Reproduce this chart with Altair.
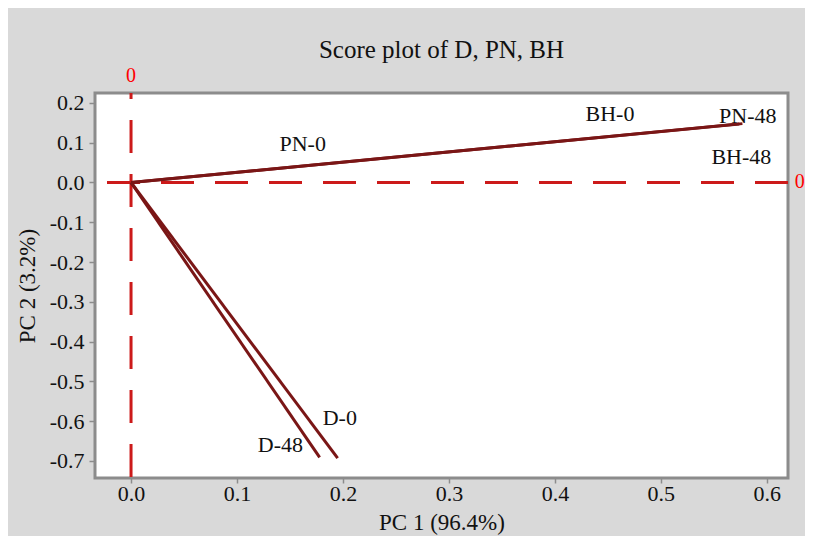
import altair as alt
import pandas as pd

# Lines drawn from the origin to each score point
series = ["D-0", "D-0", "D-48", "D-48", "PN", "PN", "BH", "BH"]
pc1 = [0.0, 0.195, 0.0, 0.178, 0.0, 0.577, 0.0, 0.574]
pc2 = [0.0, -0.693, 0.0, -0.691, 0.0, 0.148, 0.0, 0.147]
order = [0, 1, 0, 1, 0, 1, 0, 1]

# Point labels
label_text = ["PN-0", "BH-0", "PN-48", "BH-48", "D-0", "D-48"]
label_x = [0.162, 0.452, 0.582, 0.576, 0.197, 0.141]
label_y = [0.098, 0.173, 0.166, 0.063, -0.593, -0.661]

# Reference-line labels
ref_text = ["0", "0"]
ref_x = [0.0, 0.631]
ref_y = [0.269, 0.0]

x_ticks = [0.0, 0.1, 0.2, 0.3, 0.4, 0.5, 0.6]
y_ticks = [0.2, 0.1, 0.0, -0.1, -0.2, -0.3, -0.4, -0.5, -0.6, -0.7]
x_domain = [-0.034, 0.62]
y_domain = [-0.743, 0.225]

FONT = "Liberation Serif"
LABEL_EXPR = "datum.value < -0.0001 ? '-' + format(-datum.value, '.1f') : format(abs(datum.value), '.1f')"

lines_df = pd.DataFrame({"series": series, "pc1": pc1, "pc2": pc2, "order": order})
labels_df = pd.DataFrame({"text": label_text, "pc1": label_x, "pc2": label_y})
ref_df = pd.DataFrame({"text": ref_text, "pc1": ref_x, "pc2": ref_y})

xs = alt.Scale(domain=x_domain, nice=False, zero=False)
ys = alt.Scale(domain=y_domain, nice=False, zero=False)

x_axis = alt.Axis(values=x_ticks, labelExpr=LABEL_EXPR, title="PC 1 (96.4%)", grid=False,
                  domain=False, tickColor="#8c8c8c", tickSize=5, tickWidth=1.5,
                  labelPadding=0, titlePadding=7)
y_axis = alt.Axis(values=y_ticks, labelExpr=LABEL_EXPR, title="PC 2 (3.2%)", grid=False,
                  domain=False, tickColor="#8c8c8c", tickSize=6, tickWidth=1.5,
                  labelPadding=5, titlePadding=10)

vrule = alt.Chart(pd.DataFrame({"v": [0.0]})).mark_rule(
    color="#cc1a1a", strokeWidth=3, strokeDash=[33, 21], strokeDashOffset=27
).encode(x=alt.X("v:Q", scale=xs, axis=x_axis))

hrule = alt.Chart(pd.DataFrame({"v": [0.0]})).mark_rule(
    color="#cc1a1a", strokeWidth=3, strokeDash=[33, 21]
).encode(y=alt.Y("v:Q", scale=ys, axis=y_axis))

lines = alt.Chart(lines_df).mark_line(strokeWidth=3, color="#7a1616").encode(
    x=alt.X("pc1:Q", scale=xs, axis=x_axis),
    y=alt.Y("pc2:Q", scale=ys, axis=y_axis),
    detail="series:N",
    order="order:Q",
)

labels = alt.Chart(labels_df).mark_text(font=FONT, fontSize=22, color="#111111").encode(
    x=alt.X("pc1:Q", scale=xs), y=alt.Y("pc2:Q", scale=ys), text="text:N"
)

refs = alt.Chart(ref_df).mark_text(font=FONT, fontSize=20, color="#ff0000").encode(
    x=alt.X("pc1:Q", scale=xs), y=alt.Y("pc2:Q", scale=ys), text="text:N"
)

chart = alt.layer(vrule, hrule, lines, labels, refs).properties(
    width=693,
    height=385,
    title=alt.TitleParams("Score plot of D, PN, BH", font=FONT, fontSize=25,
                          fontWeight="normal", color="#111111", anchor="middle",
                          offset=3),
    autosize=alt.AutoSizeParams(type="none"),
    padding={"left": 87, "top": 85, "right": 17, "bottom": 58},
    background="#d9d9d9",
).configure_view(
    fill="white", stroke="#8c8c8c", strokeWidth=3
).configure_axis(
    labelFont=FONT, labelFontSize=22, labelColor="#111111",
    titleFont=FONT, titleFontSize=23, titleFontWeight="normal", titleColor="#111111",
)

chart.save("out.html", embed_options={"renderer": "svg", "actions": False})
